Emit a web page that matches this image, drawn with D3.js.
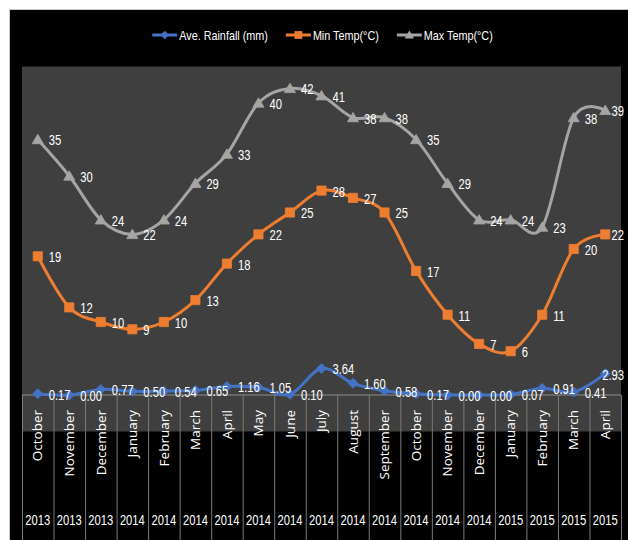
<!DOCTYPE html>
<html>
<head>
<meta charset="utf-8">
<script src="https://cdn.jsdelivr.net/npm/d3@7"></script>
<style>
  html, body { margin: 0; padding: 0; background: #ffffff; }
  svg { display: block; }
</style>
</head>
<body>
<div id="chart"></div>
<script>
// Monthly climate record, October 2013 – April 2015
const months = ["October", "November", "December", "January", "February", "March", "April",
  "May", "June", "July", "August", "September", "October", "November", "December",
  "January", "February", "March", "April"];
const years = ["2013", "2013", "2013", "2014", "2014", "2014", "2014", "2014", "2014", "2014",
  "2014", "2014", "2014", "2014", "2014", "2015", "2015", "2015", "2015"];
const rainfall = [0.17, 0.00, 0.77, 0.50, 0.54, 0.65, 1.16, 1.05, 0.10, 3.64, 1.60, 0.58,
  0.17, 0.00, 0.00, 0.07, 0.91, 0.41, 2.93];
const minTemp = [19, 12, 10, 9, 10, 13, 18, 22, 25, 28, 27, 25, 17, 11, 7, 6, 11, 20, 22];
const maxTemp = [35, 30, 24, 22, 24, 29, 33, 40, 42, 41, 38, 38, 35, 29, 24, 24, 23, 38, 39];
const seriesNames = ["Ave. Rainfall (mm)", "Min Temp(°C)", "Max Temp(°C)"];
const yDomain = [-5, 45];

const W = 628, H = 540;
const plot = { left: 22, right: 621, top: 66.5, bottom: 431.5 };

const series = [
  { name: seriesNames[0], values: rainfall, color: "#4472C4", marker: "diamond", fmt: d3.format(".2f") },
  { name: seriesNames[1], values: minTemp, color: "#ED7D31", marker: "square", fmt: d3.format("d") },
  { name: seriesNames[2], values: maxTemp, color: "#A5A5A5", marker: "triangle", fmt: d3.format("d") }
];

const labelFont = "'Liberation Sans', Arial, sans-serif";
const monthFont = "'Open Sans', sans-serif";
const narrow = 0.8;

// squeeze text horizontally to a narrow face
function condense(sel) {
  sel.each(function () {
    const len = this.getComputedTextLength();
    d3.select(this)
      .attr("textLength", len * narrow)
      .attr("lengthAdjust", "spacingAndGlyphs");
  });
}

const svg = d3.select("#chart").append("svg")
  .attr("width", W).attr("height", H);

// chart area: black panel with a light frame
svg.append("rect")
  .attr("x", 9.5).attr("y", 9.5)
  .attr("width", W + 20).attr("height", H + 20)
  .attr("fill", "#000").attr("stroke", "#c8c8c8").attr("stroke-width", 1);

// plot area
svg.append("rect")
  .attr("x", plot.left).attr("y", plot.top)
  .attr("width", plot.right - plot.left).attr("height", plot.bottom - plot.top)
  .attr("fill", "#3f3f3f");

const idx = d3.range(months.length);
const x = d3.scaleBand().domain(idx).range([plot.left, plot.right]).padding(0);
const cx = i => x(i) + x.bandwidth() / 2;
const y = d3.scaleLinear().domain(yDomain).range([plot.bottom, plot.top]);
const y0 = y(0);

// category boundaries running down through the label rows
const xb = d3.scaleLinear().domain([0, months.length]).range([plot.left, plot.right]);
const gBound = svg.append("g")
  .attr("transform", `translate(0,${y0})`)
  .call(d3.axisBottom(xb).tickValues(d3.range(months.length + 1)).tickSize(H - y0).tickFormat(""));
gBound.select(".domain").remove();
gBound.selectAll("line").attr("stroke", "#7a7a7a").attr("stroke-width", 1);

// horizontal axis at zero
svg.append("line")
  .attr("x1", plot.left).attr("x2", plot.right)
  .attr("y1", y0).attr("y2", y0)
  .attr("stroke", "#8f8f8f").attr("stroke-width", 1);

// month labels (rotated)
const gMonth = svg.append("g")
  .attr("transform", `translate(0,410)`)
  .call(d3.axisBottom(x).tickSize(0).tickFormat(i => months[i]));
gMonth.select(".domain").remove();
gMonth.selectAll("text")
  .attr("transform", "rotate(-90)")
  .attr("x", 0).attr("y", 0).attr("dy", "0.35em")
  .attr("text-anchor", "end")
  .attr("fill", "#fff")
  .style("font-family", monthFont)
  .style("font-size", "13.5px");

// year labels
const gYear = svg.append("g")
  .attr("transform", `translate(0,520)`)
  .call(d3.axisBottom(x).tickSize(0).tickFormat(i => years[i]));
gYear.select(".domain").remove();
gYear.selectAll("text")
  .attr("y", 0).attr("dy", "0.35em")
  .attr("fill", "#fff")
  .style("font-family", labelFont)
  .style("font-size", "14px")
  .call(condense);

// marker shapes
const markerPath = {
  diamond: "M0,-5L5,0L0,5L-5,0Z",
  square: "M-4.6,-4.6H4.6V4.6H-4.6Z",
  triangle: "M0,-5.2L5.6,4.2H-5.6Z"
};

const line = d3.line()
  .x((d, i) => cx(i))
  .y(d => y(d))
  .curve(d3.curveCardinal.tension(0));

series.forEach(s => {
  const g = svg.append("g");
  g.append("path")
    .datum(s.values)
    .attr("d", line)
    .attr("fill", "none")
    .attr("stroke", s.color)
    .attr("stroke-width", 3)
    .attr("stroke-linejoin", "round")
    .attr("stroke-linecap", "round");
  g.selectAll("path.mk")
    .data(s.values)
    .join("path")
    .attr("class", "mk")
    .attr("d", markerPath[s.marker])
    .attr("transform", (d, i) => `translate(${cx(i)},${y(d)})`)
    .attr("fill", s.color)
    .attr("stroke", s.color)
    .attr("stroke-width", 0.8);
});

// data labels, to the right of each point, kept inside the chart area
const labelLimit = W - 4;
series.forEach(s => {
  svg.append("g").selectAll("text")
    .data(s.values)
    .join("text")
    .attr("x", (d, i) => cx(i) + 11)
    .attr("y", d => y(d) + 1)
    .attr("dy", "0.35em")
    .attr("fill", "#fff")
    .style("font-family", labelFont)
    .style("font-size", "14px")
    .text(d => s.fmt(d))
    .call(condense)
    .each(function () {
      const t = d3.select(this);
      const w = +t.attr("textLength");
      const x0 = +t.attr("x");
      if (x0 + w > labelLimit) t.attr("x", labelLimit - w);
    });
});

// legend, centred above the plot
const legend = svg.append("g");
let lx = 0;
const spacing = 18;
series.forEach((s, k) => {
  const item = legend.append("g").attr("transform", `translate(${lx},0)`);
  item.append("line")
    .attr("x1", 0).attr("x2", 25).attr("y1", 0).attr("y2", 0)
    .attr("stroke", s.color).attr("stroke-width", 3);
  item.append("path")
    .attr("d", markerPath[s.marker])
    .attr("transform", "translate(12.5,0) scale(0.85)")
    .attr("fill", s.color);
  const t = item.append("text")
    .attr("x", 27).attr("y", 0).attr("dy", "0.35em")
    .attr("fill", "#fff")
    .style("font-family", labelFont)
    .style("font-size", "13.5px")
    .text(s.name)
    .call(condense);
  lx += 27 + (+t.attr("textLength")) + spacing;
});
const legendWidth = lx - spacing;
legend.attr("transform", `translate(${322.5 - legendWidth / 2},35)`);
</script>
</body>
</html>
